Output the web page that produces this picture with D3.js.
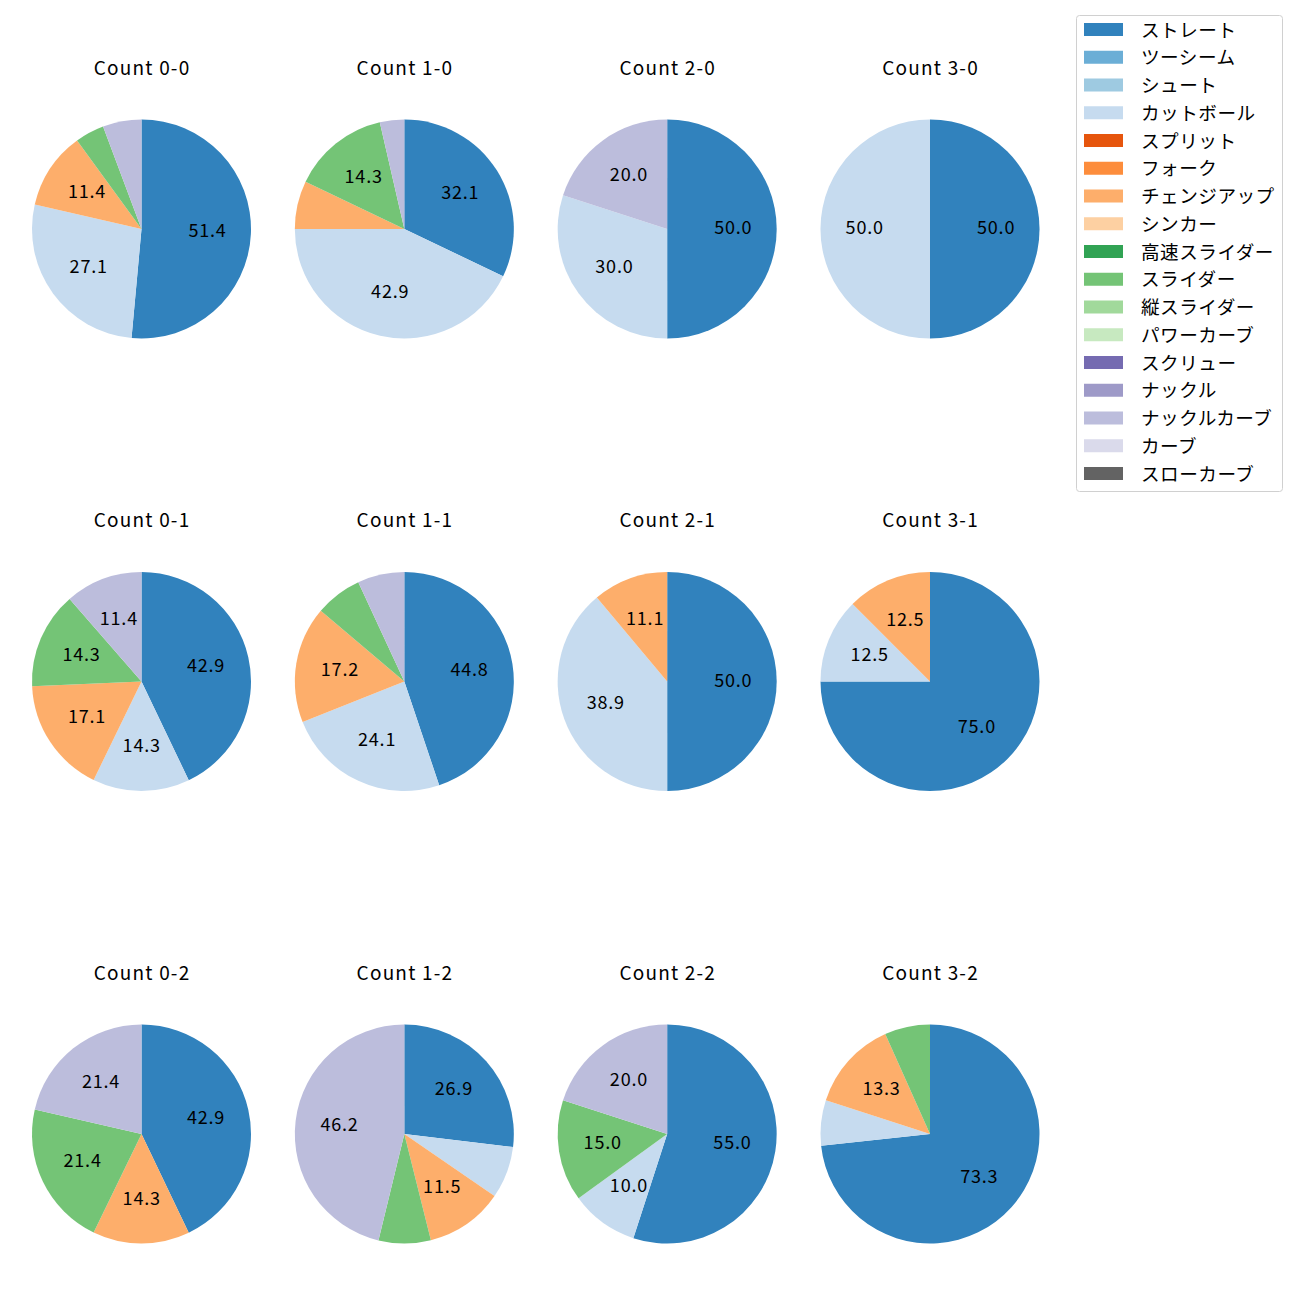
<!DOCTYPE html>
<html>
<head>
<meta charset="utf-8">
<script src="https://cdn.jsdelivr.net/npm/d3@7"></script>
<style>
body { margin: 0; background: #fff; }
svg { display: block; }
text { font-family: "Noto Sans CJK JP", "Noto Sans", sans-serif; }
</style>
</head>
<body>
<svg id="chart" width="1300" height="1300"></svg>
<script>
const pitchTypes = ["ストレート","ツーシーム","シュート","カットボール","スプリット","フォーク","チェンジアップ","シンカー","高速スライダー","スライダー","縦スライダー","パワーカーブ","スクリュー","ナックル","ナックルカーブ","カーブ","スローカーブ"];
const pitchColors = ["#3182bd","#6baed6","#9ecae1","#c6dbef","#e6550d","#fd8d3c","#fdae6b","#fdd0a2","#31a354","#74c476","#a1d99b","#c7e9c0","#756bb1","#9e9ac8","#bcbddc","#dadaeb","#636363"];

const counts = ["0-0","1-0","2-0","3-0","0-1","1-1","2-1","3-1","0-2","1-2","2-2","3-2"];
// percentages by pitch type (same order as pitchTypes)
const count00 = [51.4,0,0,27.1,0,0,11.4,0,0,4.3,0,0,0,0,5.7,0,0];
const count10 = [32.1,0,0,42.9,0,0,7.1,0,0,14.3,0,0,0,0,3.6,0,0];
const count20 = [50.0,0,0,30.0,0,0,0,0,0,0,0,0,0,0,20.0,0,0];
const count30 = [50.0,0,0,50.0,0,0,0,0,0,0,0,0,0,0,0,0,0];
const count01 = [42.9,0,0,14.3,0,0,17.1,0,0,14.3,0,0,0,0,11.4,0,0];
const count11 = [44.8,0,0,24.1,0,0,17.2,0,0,6.9,0,0,0,0,6.9,0,0];
const count21 = [50.0,0,0,38.9,0,0,11.1,0,0,0,0,0,0,0,0,0,0];
const count31 = [75.0,0,0,12.5,0,0,12.5,0,0,0,0,0,0,0,0,0,0];
const count02 = [42.9,0,0,0,0,0,14.3,0,0,21.4,0,0,0,0,21.4,0,0];
const count12 = [26.9,0,0,7.7,0,0,11.5,0,0,7.7,0,0,0,0,46.2,0,0];
const count22 = [55.0,0,0,10.0,0,0,0,0,0,15.0,0,0,0,0,20.0,0,0];
const count32 = [73.3,0,0,6.7,0,0,13.3,0,0,6.7,0,0,0,0,0,0,0];
const countValues = [count00,count10,count20,count30,count01,count11,count21,count31,count02,count12,count22,count32];

const svg = d3.select("#chart");
const color = d3.scaleOrdinal().domain(pitchTypes).range(pitchColors);
const colX = d3.scalePoint().domain([0,1,2,3]).range([141.5, 930]);
const rowY = d3.scalePoint().domain([0,1,2]).range([229, 1134]);
const R = 109.5;

const pie = d3.pie().sort(null).value(d => d.v).startAngle(0).endAngle(2*Math.PI);
const arc = d3.arc().innerRadius(0).outerRadius(R);
const labelArc = d3.arc().innerRadius(R*0.6).outerRadius(R*0.6);

counts.forEach((c, i) => {
  const col = i % 4, row = Math.floor(i / 4);
  const cx = colX(col), cy = rowY(row);
  const data = pitchTypes.map((p, k) => ({p, v: countValues[i][k]})).filter(d => d.v > 0);
  const total = d3.sum(data, d => d.v);
  const g = svg.append("g").attr("transform", `translate(${cx},${cy})`);
  const arcs = pie(data);
  g.selectAll("path").data(arcs).enter().append("path")
    .attr("d", arc).attr("fill", d => color(d.data.p));
  g.selectAll("text.lbl").data(arcs.filter(d => d.data.v / total * 100 >= 10)).enter().append("text")
    .attr("class","lbl")
    .attr("transform", d => `translate(${labelArc.centroid(d)})`)
    .attr("text-anchor","middle").attr("dy", 5).attr("dx", 0.4)
    .attr("font-size", 18).attr("letter-spacing", 0.8).attr("fill","#000")
    .text(d => d.data.v.toFixed(1));
  svg.append("text").attr("x", cx + 0.6).attr("y", cy - 154.3)
    .attr("text-anchor","middle")
    .attr("font-size", 19).attr("letter-spacing", 1.2).attr("fill","#000")
    .text("Count " + c);
});

// legend
const lg = svg.append("g");
lg.append("rect").attr("x",1076.5).attr("y",15.5).attr("width",206).attr("height",476)
  .attr("rx",3).attr("fill","#fff").attr("stroke","#d0d0d0");
const ly = d3.scalePoint().domain(pitchTypes).range([29.5, 473.5]);
pitchTypes.forEach(p => {
  lg.append("rect").attr("x",1084).attr("y",ly(p)-6.5).attr("width",39).attr("height",13).attr("fill",color(p));
  lg.append("text").attr("x",1141).attr("y",ly(p) + 7)
    .attr("font-size",18.6).attr("letter-spacing",0.5).attr("fill","#000").text(p);
});
</script>
</body>
</html>
